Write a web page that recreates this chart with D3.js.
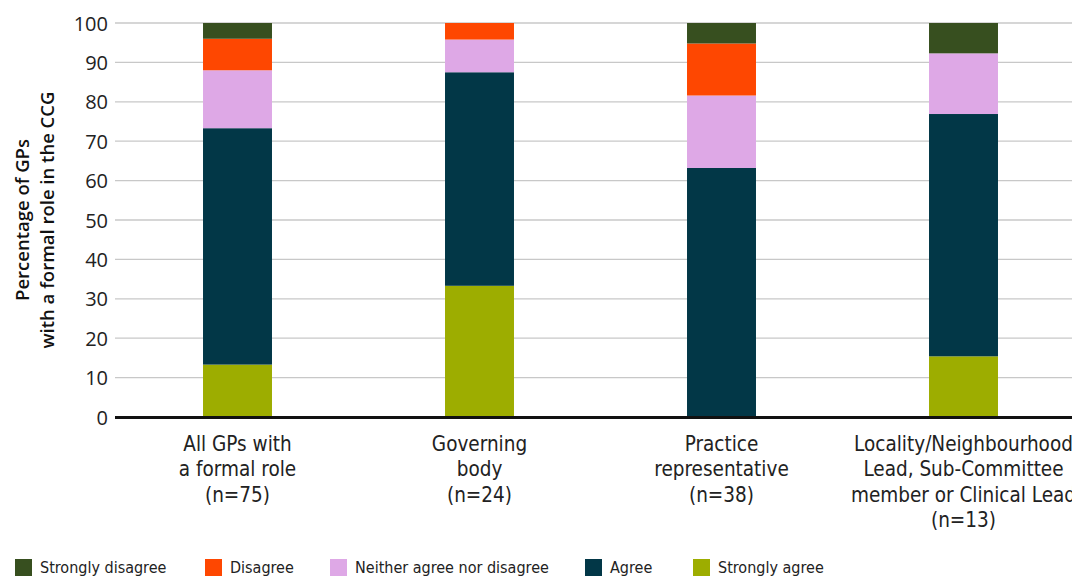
<!DOCTYPE html>
<html>
<head>
<meta charset="utf-8">
<script src="https://cdn.jsdelivr.net/npm/d3@7"></script>
<style>
html,body{margin:0;padding:0;background:#fff;overflow:hidden;}
svg{display:block;}
</style>
</head>
<body>
<svg id="chart" width="1072" height="576"></svg>
<script>
const categories = [
  ["All GPs with", "a formal role", "(n=75)"],
  ["Governing", "body", "(n=24)"],
  ["Practice", "representative", "(n=38)"],
  ["Locality/Neighbourhood", "Lead, Sub-Committee", "member or Clinical Lead", "(n=13)"]
];
const seriesNames = ["Strongly agree", "Agree", "Neither agree nor disagree", "Disagree", "Strongly disagree"];
const stronglyAgree = [13.3, 33.3, 0, 15.4];
const agree = [60.0, 54.2, 63.2, 61.5];
const neither = [14.7, 8.3, 18.4, 15.4];
const disagree = [8.0, 4.2, 13.2, 0];
const stronglyDisagree = [4.0, 0, 5.2, 7.7];
const yTicks = [0, 10, 20, 30, 40, 50, 60, 70, 80, 90, 100];
const legendOrder = ["Strongly disagree", "Disagree", "Neither agree nor disagree", "Agree", "Strongly agree"];
const colors = {
  "Strongly agree": "#9dad00",
  "Agree": "#023747",
  "Neither agree nor disagree": "#dea8e6",
  "Disagree": "#fe4701",
  "Strongly disagree": "#374f1f"
};

const seriesValues = [stronglyAgree, agree, neither, disagree, stronglyDisagree];
const rows = categories.map((c, i) => {
  const r = {key: i};
  seriesNames.forEach((s, j) => r[s] = seriesValues[j][i]);
  return r;
});

const svg = d3.select("#chart");
const x0 = 116.5, bandW = 242;
const x = d3.scaleBand().domain(categories.map((c, i) => i))
  .range([x0, x0 + bandW * categories.length]).paddingInner(0.715).paddingOuter(0.3575);
const y = d3.scaleLinear().domain([0, 100]).range([417, 23]);

// gridlines
svg.append("g").selectAll("line").data(yTicks.filter(d => d > 0)).join("line")
  .attr("x1", 115).attr("x2", 1072)
  .attr("y1", d => y(d)).attr("y2", d => y(d))
  .attr("stroke", "#c8c8c8").attr("stroke-width", 1.3);

// y axis labels
const yAxis = d3.axisLeft(y).tickValues(yTicks).tickSize(0).tickPadding(0);
const ya = svg.append("g").attr("transform", "translate(108,0)").call(yAxis);
ya.select(".domain").remove();
ya.selectAll("text").attr("font-family", "'Open Sans', 'Noto Sans', sans-serif")
  .attr("font-size", 20).attr("fill", "#222").attr("dy", "0.35em");

// stacked bars
const stack = d3.stack().keys(seriesNames)(rows);
svg.append("g").selectAll("g").data(stack).join("g")
  .attr("fill", d => colors[d.key])
  .selectAll("rect").data(d => d).join("rect")
  .attr("x", d => x(d.data.key))
  .attr("width", x.bandwidth())
  .attr("y", d => y(d[1]))
  .attr("height", d => y(d[0]) - y(d[1]));

// baseline
svg.append("line").attr("x1", 115).attr("x2", 1072)
  .attr("y1", y(0) + 0.5).attr("y2", y(0) + 0.5)
  .attr("stroke", "#111").attr("stroke-width", 3);

// category labels
const catFont = "'Liberation Sans Narrow', 'DejaVu Sans Condensed', 'Roboto', sans-serif";
const cg = svg.append("g");
categories.forEach((lines, i) => {
  const t = cg.append("text")
    .attr("x", x(i) + x.bandwidth() / 2)
    .attr("y", 451)
    .attr("text-anchor", "middle")
    .attr("font-family", catFont)
    .attr("font-size", 20.5)
    .attr("fill", "#222");
  lines.forEach((l, k) => t.append("tspan")
    .attr("x", x(i) + x.bandwidth() / 2)
    .attr("dy", k === 0 ? 0 : 25.3)
    .text(l));
});

// y axis title
const yt = svg.append("text")
  .attr("transform", "translate(0,220) rotate(-90)")
  .attr("text-anchor", "middle")
  .attr("font-family", "'Open Sans', 'Noto Sans', sans-serif")
  .attr("font-weight", 600)
  .attr("font-size", 18.5)
  .attr("fill", "#111");
yt.append("tspan").attr("x", 0).attr("y", 29).text("Percentage of GPs");
yt.append("tspan").attr("x", 0).attr("y", 54).text("with a formal role in the CCG");

// legend
const legX = [15, 205, 330, 585, 693];
const lg = svg.append("g");
legendOrder.forEach((s, i) => {
  lg.append("rect").attr("x", legX[i]).attr("y", 559).attr("width", 17).attr("height", 17)
    .attr("fill", colors[s]);
  lg.append("text").attr("x", legX[i] + 25).attr("y", 573)
    .attr("font-family", catFont).attr("font-size", 16).attr("fill", "#222")
    .text(s);
});
</script>
</body>
</html>
